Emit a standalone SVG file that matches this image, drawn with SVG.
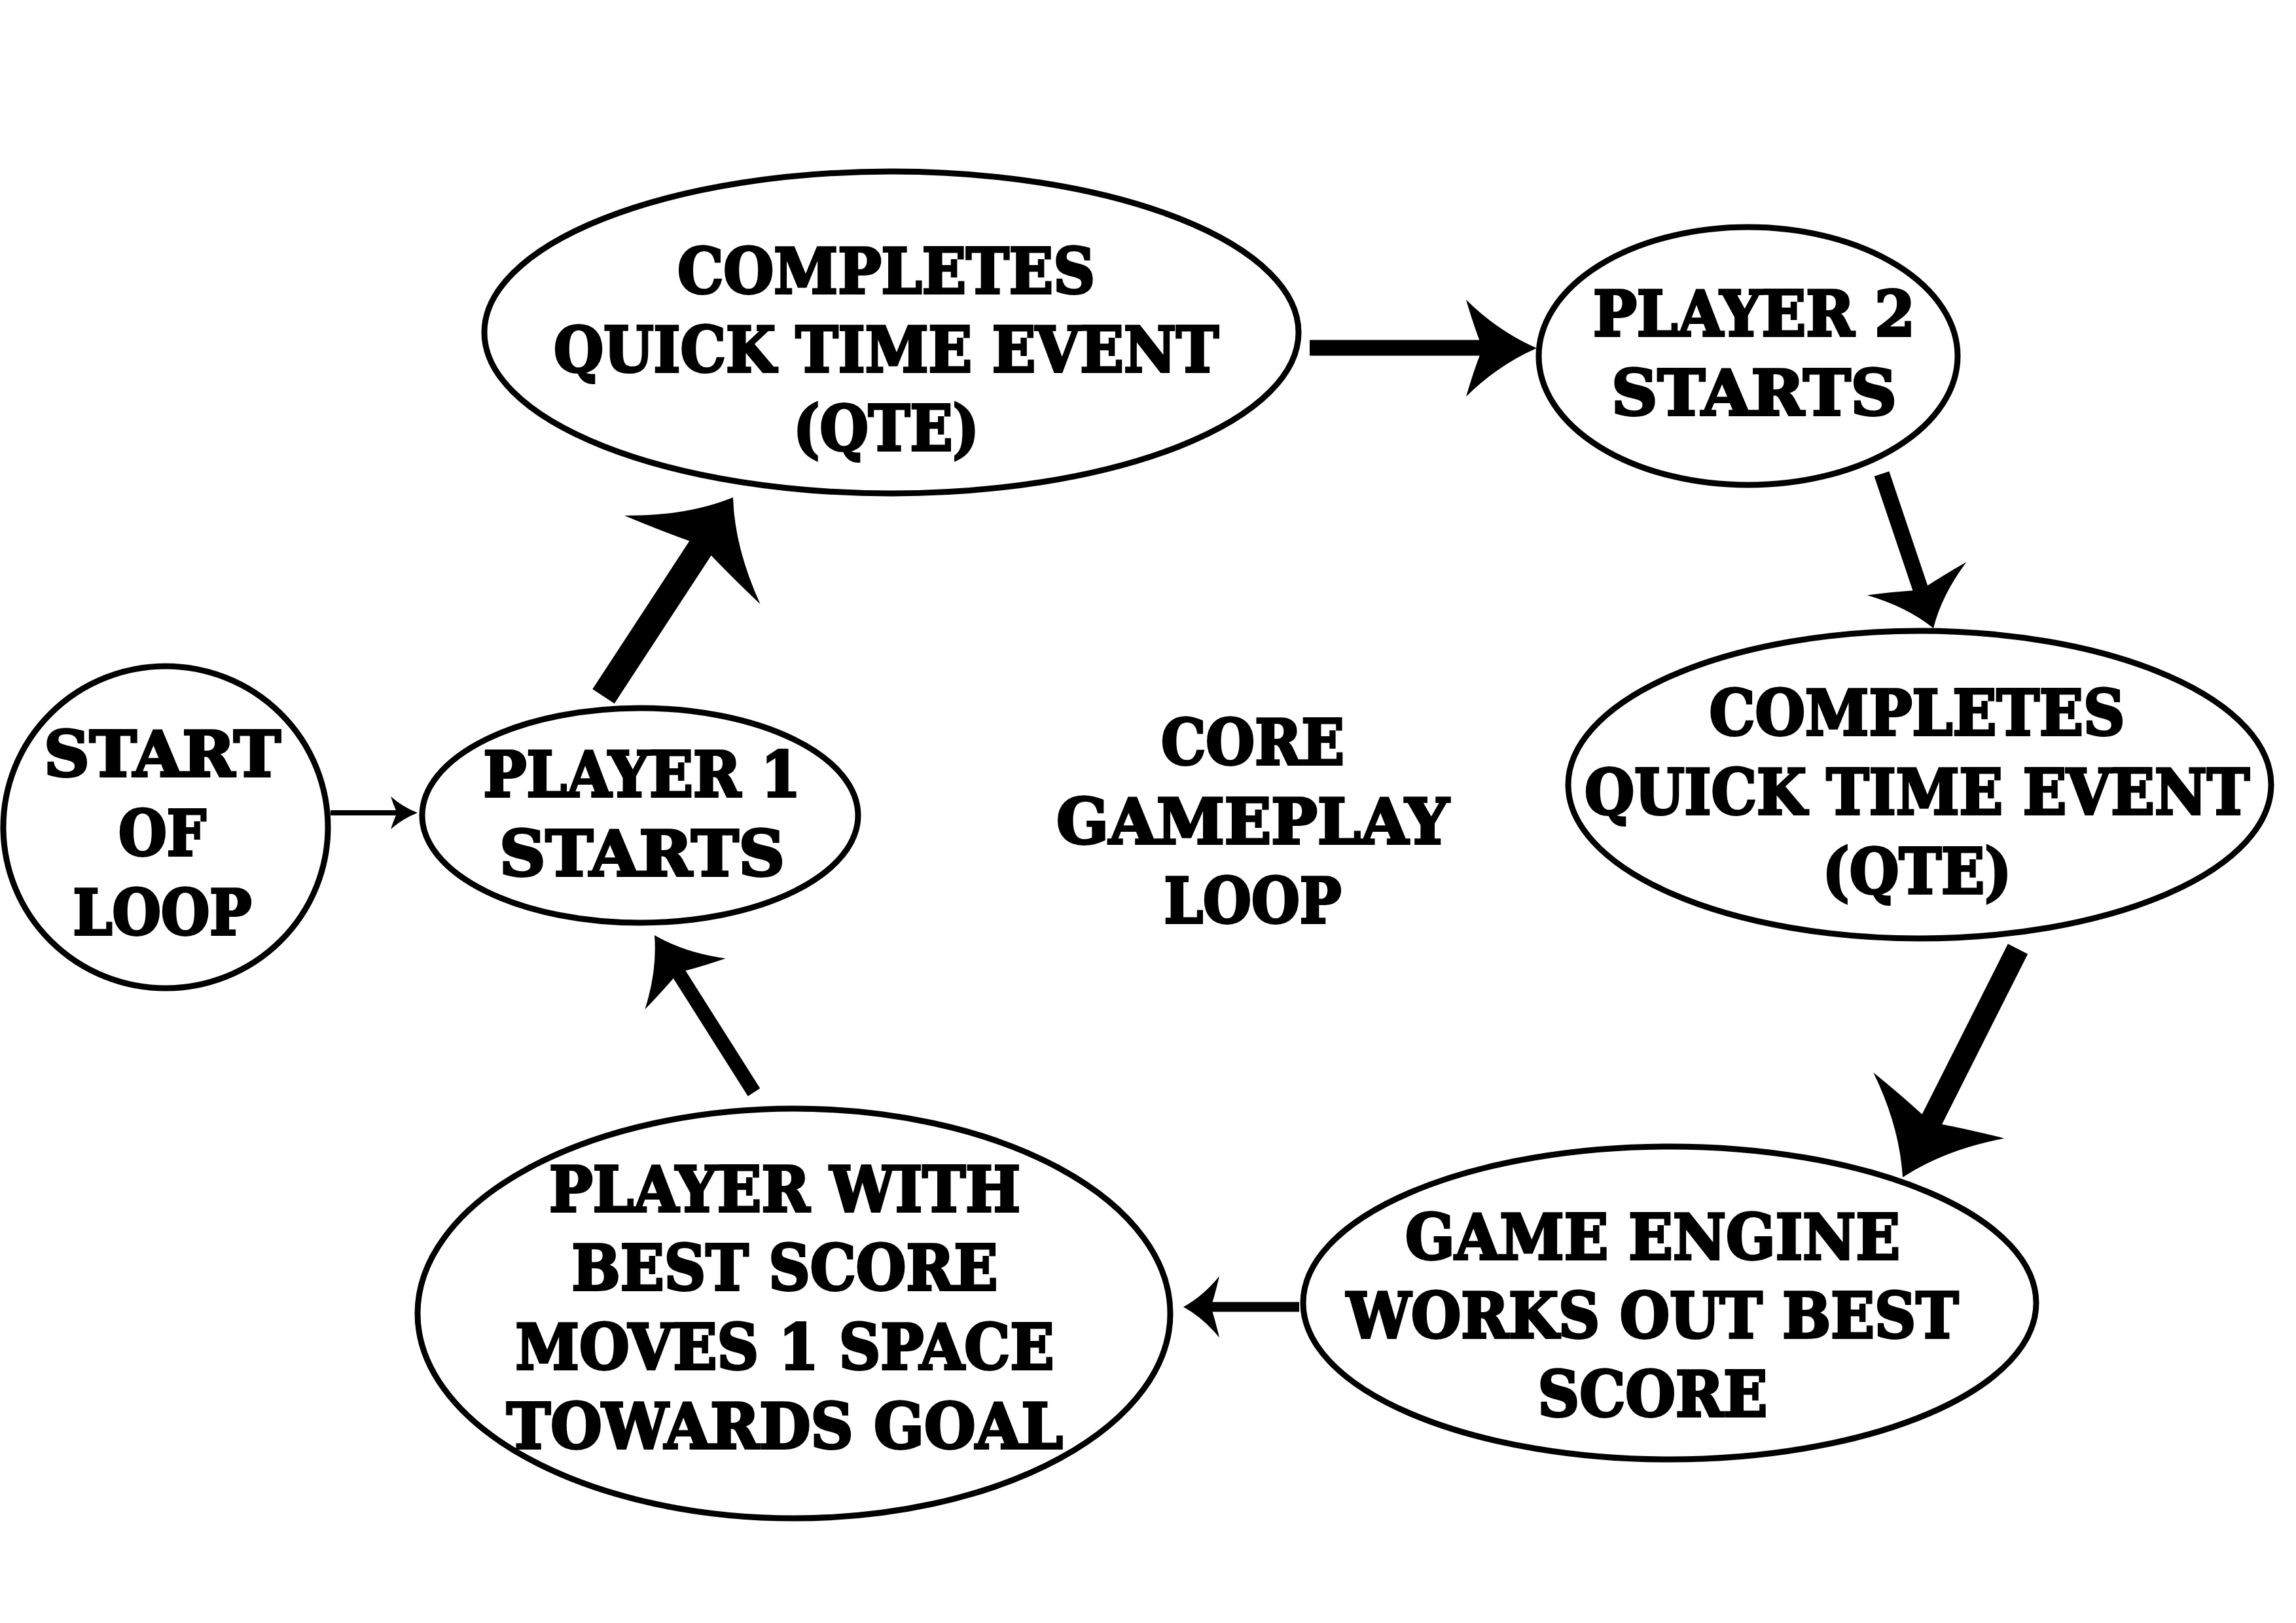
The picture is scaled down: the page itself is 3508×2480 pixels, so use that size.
<svg xmlns="http://www.w3.org/2000/svg" xmlns:xlink="http://www.w3.org/1999/xlink" width="3508" height="2480" viewBox="0 0 3508 2480">
<style>
.node{fill:#fff;stroke:#000;stroke-width:9}
.t{font-family:"DejaVu Serif","Liberation Serif",serif;font-weight:bold;font-size:96px;text-anchor:middle;fill:#000;stroke:#000;stroke-width:4;stroke-linejoin:miter}
.sh{stroke:#000;fill:none;stroke-linecap:butt}
.hd{fill:#000}
</style>
<defs>
<path id="head" d="M0,0 Q-0.55,-0.35 -1,-1 Q-0.9,-0.5 -0.8,-0.12 L-0.8,0.12 Q-0.9,0.5 -1,1 Q-0.55,0.35 0,0 Z"/>
</defs>
<rect width="3508" height="2480" fill="#fff"/>
<g id="connectors">
<line class="sh" x1="505" y1="1242" x2="612" y2="1242" stroke-width="8"/>
<use class="hd" xlink:href="#head" transform="translate(638,1242) scale(41,25)"/>
<line class="sh" x1="922" y1="1064" x2="1077" y2="827" stroke-width="40"/>
<use class="hd" xlink:href="#head" transform="translate(1120,760) rotate(-56.9) scale(114,124)"/>
<line class="sh" x1="2001" y1="531.5" x2="2272" y2="531.5" stroke-width="24"/>
<use class="hd" xlink:href="#head" transform="translate(2348,532) scale(108,74)"/>
<line class="sh" x1="2875" y1="724" x2="2937" y2="908" stroke-width="24"/>
<use class="hd" xlink:href="#head" transform="translate(2954,960) rotate(71.5) scale(80,80)"/>
<line class="sh" x1="3083" y1="1450" x2="2946" y2="1722" stroke-width="34"/>
<use class="hd" xlink:href="#head" transform="translate(2907,1799) rotate(116.7) scale(123,112)"/>
<line class="sh" x1="1985" y1="1997" x2="1846" y2="1997" stroke-width="15"/>
<use class="hd" xlink:href="#head" transform="translate(1808,1997) rotate(180) scale(55,47)"/>
<line class="sh" x1="1152" y1="1669" x2="1033" y2="1481" stroke-width="22"/>
<use class="hd" xlink:href="#head" transform="translate(1000,1429) rotate(-122.3) scale(88,73)"/>
</g>
<g id="start">
<ellipse class="node" cx="253" cy="1264" rx="248" ry="246"/>
<text class="t" x="248" y="1186" textLength="362" lengthAdjust="spacingAndGlyphs">START</text>
<text class="t" x="248" y="1307" textLength="134" lengthAdjust="spacingAndGlyphs">OF</text>
<text class="t" x="248" y="1428" textLength="273" lengthAdjust="spacingAndGlyphs">LOOP</text>
</g>
<g id="player1">
<ellipse class="node" cx="978" cy="1246" rx="333" ry="164"/>
<text class="t" x="981" y="1217" textLength="485" lengthAdjust="spacingAndGlyphs">PLAYER 1</text>
<text class="t" x="981" y="1338" textLength="436" lengthAdjust="spacingAndGlyphs">STARTS</text>
</g>
<g id="qte1">
<ellipse class="node" cx="1362" cy="508" rx="622" ry="246"/>
<text class="t" x="1354" y="448" textLength="638" lengthAdjust="spacingAndGlyphs">COMPLETES</text>
<text class="t" x="1354" y="568" textLength="1016" lengthAdjust="spacingAndGlyphs">QUICK TIME EVENT</text>
<text class="t" x="1354" y="688" textLength="284" lengthAdjust="spacingAndGlyphs">(QTE)</text>
</g>
<g id="player2">
<ellipse class="node" cx="2671" cy="544" rx="320" ry="197"/>
<text class="t" x="2680" y="513" textLength="492" lengthAdjust="spacingAndGlyphs">PLAYER 2</text>
<text class="t" x="2680" y="634" textLength="436" lengthAdjust="spacingAndGlyphs">STARTS</text>
</g>
<g id="qte2">
<ellipse class="node" cx="2933" cy="1199" rx="537" ry="235"/>
<text class="t" x="2929" y="1123" textLength="635" lengthAdjust="spacingAndGlyphs">COMPLETES</text>
<text class="t" x="2929" y="1244" textLength="1016" lengthAdjust="spacingAndGlyphs">QUICK TIME EVENT</text>
<text class="t" x="2929" y="1365" textLength="289" lengthAdjust="spacingAndGlyphs">(QTE)</text>
</g>
<g id="engine">
<ellipse class="node" cx="2551" cy="1991" rx="560" ry="239"/>
<text class="t" x="2525" y="1924" textLength="756" lengthAdjust="spacingAndGlyphs">GAME ENGINE</text>
<text class="t" x="2525" y="2044" textLength="935" lengthAdjust="spacingAndGlyphs">WORKS OUT BEST</text>
<text class="t" x="2525" y="2164" textLength="351" lengthAdjust="spacingAndGlyphs">SCORE</text>
</g>
<g id="mover">
<ellipse class="node" cx="1213" cy="2007" rx="575" ry="313"/>
<text class="t" x="1199" y="1851" textLength="720" lengthAdjust="spacingAndGlyphs">PLAYER WITH</text>
<text class="t" x="1199" y="1971" textLength="651" lengthAdjust="spacingAndGlyphs">BEST SCORE</text>
<text class="t" x="1199" y="2092" textLength="823" lengthAdjust="spacingAndGlyphs">MOVES 1 SPACE</text>
<text class="t" x="1199" y="2213" textLength="850" lengthAdjust="spacingAndGlyphs">TOWARDS GOAL</text>
</g>
<g id="title">
<text class="t" x="1914" y="1168" textLength="280" lengthAdjust="spacingAndGlyphs">CORE</text>
<text class="t" x="1914" y="1289" textLength="600" lengthAdjust="spacingAndGlyphs">GAMEPLAY</text>
<text class="t" x="1914" y="1410" textLength="271" lengthAdjust="spacingAndGlyphs">LOOP</text>
</g>
</svg>
